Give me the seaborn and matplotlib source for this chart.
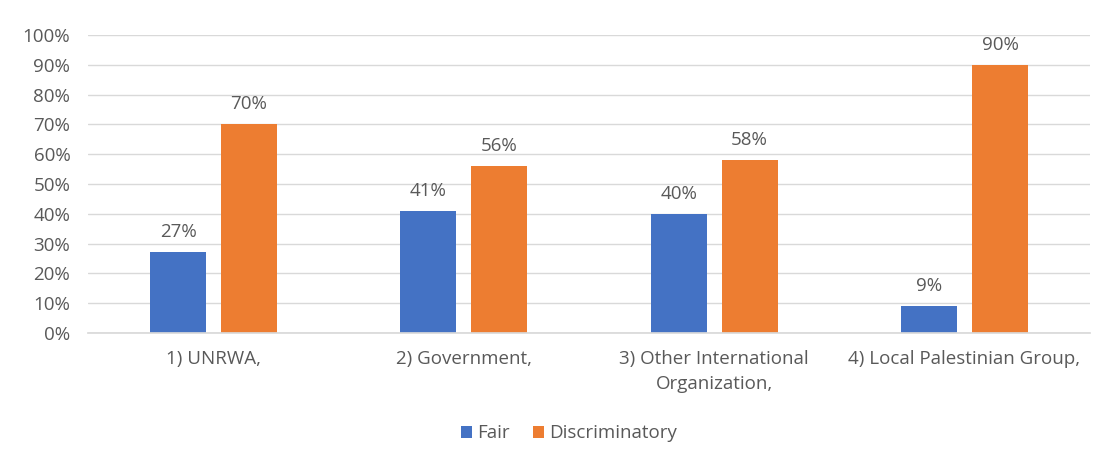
import pandas as pd
import matplotlib.pyplot as plt
import seaborn as sns

categories = ['1) UNRWA,', '2) Government,', '3) Other International\nOrganization,', '4) Local Palestinian Group,']
fair = [27, 41, 40, 9]
discriminatory = [70, 56, 58, 90]
y_ticks = list(range(0, 101, 10))

sns.set_theme(style="white")
plt.rcParams['font.family'] = ['Open Sans', 'DejaVu Sans']

df = pd.DataFrame({
    'Category': categories * 2,
    'Value': fair + discriminatory,
    'Series': ['Fair'] * 4 + ['Discriminatory'] * 4,
})

fig = plt.figure(figsize=(11.04, 4.61), dpi=100)
ax = fig.add_axes([0.080, 0.278, 0.907, 0.646])
sns.barplot(data=df, x='Category', y='Value', hue='Series',
            palette={'Fair': '#4472C4', 'Discriminatory': '#ED7D31'},
            width=0.567, gap=0.21, ax=ax, saturation=1, linewidth=0)

for c in ax.containers:
    ax.bar_label(c, labels=[f'{v:.0f}%' for v in c.datavalues], padding=8, color='#595959', fontsize=13.5)

ax.set_ylim(0, 100)
ax.set_yticks(y_ticks)
ax.set_yticklabels([f'{t}%' for t in y_ticks])
ax.set_xlim(-0.5, 3.5)
ax.yaxis.grid(True, color='#D9D9D9', linewidth=1)
ax.set_axisbelow(True)
for s in ['top', 'right', 'left']:
    ax.spines[s].set_visible(False)
ax.spines['bottom'].set_color('#D9D9D9')
ax.tick_params(axis='both', colors='#595959', labelsize=13.5, length=0)
ax.tick_params(axis='y', pad=13)
ax.tick_params(axis='x', pad=12)
for lbl in ax.get_xticklabels():
    lbl.set_linespacing(1.5)
ax.set_xlabel('')
ax.set_ylabel('')

ax.legend(loc='upper center', bbox_to_anchor=(0.48, -0.25), ncol=2, frameon=False,
          fontsize=13.5, handlelength=0.6, handleheight=0.6, handletextpad=0.3,
          columnspacing=1.2, labelcolor='#595959')

fig.savefig('out.png', dpi=100)
